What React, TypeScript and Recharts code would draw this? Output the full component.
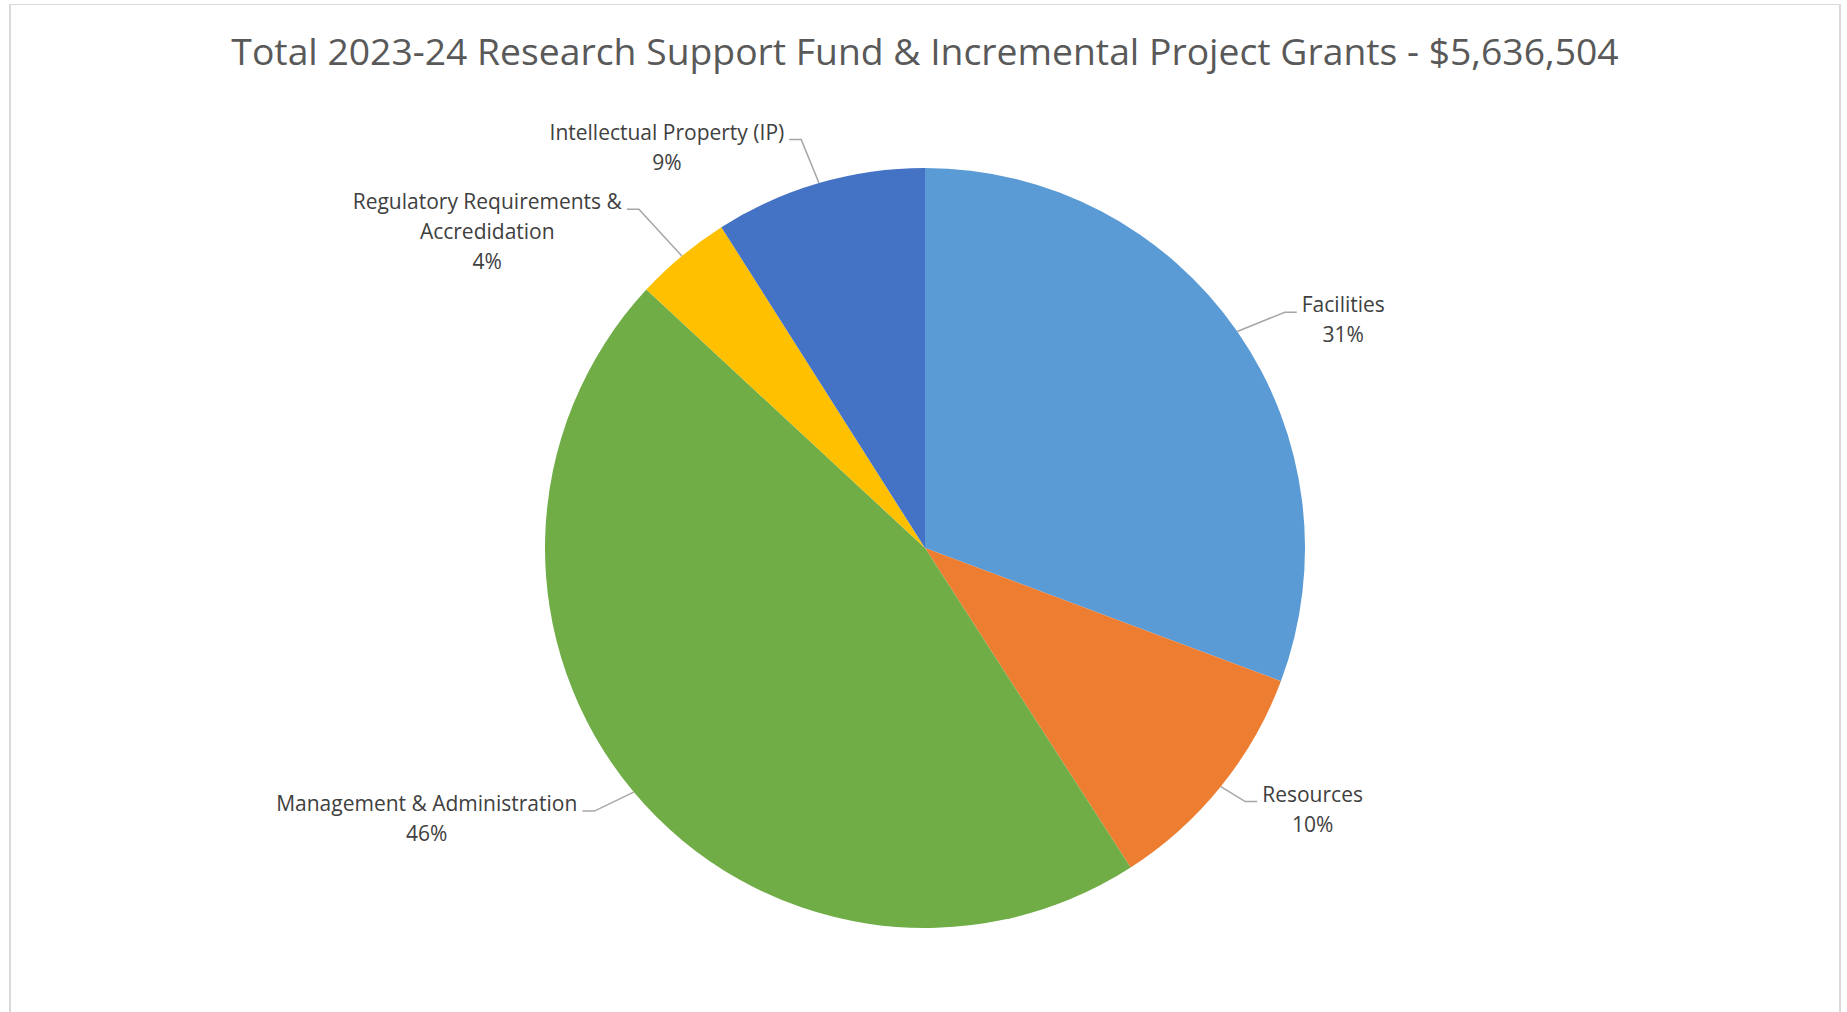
import React from "react";
import { PieChart, Pie, Cell } from "recharts";

// values (shares of $5,636,504)
const categories = [
  "Facilities",
  "Resources",
  "Management & Administration",
  "Regulatory Requirements &\nAccredidation",
  "Intellectual Property (IP)",
];
const amounts = [1730400, 574900, 2592800, 231100, 507300];
const sliceColors = ["#5B9BD5", "#ED7D31", "#70AD47", "#FFC000", "#4472C4"];
const chartTitle = "Total 2023-24 Research Support Fund & Incremental Project Grants - $5,636,504";

// leader line elbow: distance as a multiple of the radius, and a small clockwise turn (deg)
const leaderReach = [1.132, 1.075, 1.112, 1.167, 1.123];
const leaderTurn = [1.5, -0.5, 1.45, -0.4, -0.66];

const W = 1828;
const H = 1007;
const FONT = "'Open Sans', sans-serif";
const LABEL_SIZE = 21;
const LINE_GAP = 30;
const RADIAN = Math.PI / 180;

const data = categories.map((name, i) => ({ name, value: amounts[i] }));

let ctx: CanvasRenderingContext2D | null = null;
const textWidth = (s: string) => {
  if (!ctx) ctx = document.createElement("canvas").getContext("2d");
  if (!ctx) return s.length * LABEL_SIZE * 0.5;
  ctx.font = `${LABEL_SIZE}px 'Open Sans'`;
  return ctx.measureText(s).width;
};

const renderLabel = (props: any) => {
  const { cx, cy, midAngle, outerRadius, percent, index } = props;
  const a = -midAngle * RADIAN;
  const sx = cx + outerRadius * Math.cos(a);
  const sy = cy + outerRadius * Math.sin(a);
  const b = -(midAngle - (leaderTurn[index] ?? 0)) * RADIAN;
  const k = leaderReach[index] ?? 1.12;
  const ex = cx + outerRadius * k * Math.cos(b);
  const ey = cy + outerRadius * k * Math.sin(b);
  const dir = Math.cos(a) >= 0 ? 1 : -1;
  const hx = ex + dir * 12;
  const lines = [...categories[index].split("\n"), `${Math.round(percent * 100)}%`];
  const w = Math.max(...lines.map(textWidth));
  const tx = hx + dir * (5 + w / 2);
  return (
    <g>
      <polyline
        points={`${sx},${sy} ${ex},${ey} ${hx},${ey}`}
        fill="none" stroke="#A6A6A6" strokeWidth={1.5}
      />
      <text x={tx} y={ey} textAnchor="middle" fill="#404040" fontSize={LABEL_SIZE} fontFamily={FONT}>
        {lines.map((l, i) => (
          <tspan key={i} x={tx} dy={i === 0 ? 0 : LINE_GAP}>{l}</tspan>
        ))}
      </text>
    </g>
  );
};

export default function App() {
  return (
    <div style={{
      position: "absolute", left: 9, top: 4, width: 1832, height: 1008,
      boxSizing: "border-box", background: "#fff", overflow: "hidden",
      borderLeft: "2px solid #D9D9D9", borderRight: "2px solid #D9D9D9", borderTop: "1px solid #D9D9D9",
    }}>
      <svg width={W} height={90} style={{ position: "absolute", left: 0, top: 0 }}>
        <text x={914} y={60} textAnchor="middle" fill="#595959" fontSize={37.3} fontFamily={FONT}>
          {chartTitle}
        </text>
      </svg>
      <PieChart width={W} height={H} style={{ position: "absolute", left: 0, top: 0 }}>
        <Pie
          data={data} dataKey="value" nameKey="name"
          cx={909} cy={538} outerRadius={380}
          startAngle={90} endAngle={-270}
          stroke="none" label={renderLabel} labelLine={false}
          isAnimationActive={false}
        >
          {data.map((d, i) => <Cell key={d.name} fill={sliceColors[i]} />)}
        </Pie>
      </PieChart>
    </div>
  );
}
